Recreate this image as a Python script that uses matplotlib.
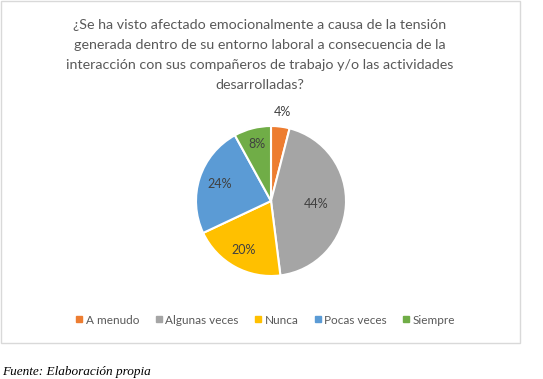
import matplotlib
matplotlib.use("Agg")
import matplotlib.pyplot as plt
import numpy as np

title = ("¿Se ha visto afectado emocionalmente a causa de la tensión\n"
         "generada dentro de su entorno laboral a consecuencia de la\n"
         "interacción con sus compañeros de trabajo y/o las actividades\n"
         "desarrolladas?")
categories = ["A menudo", "Algunas veces", "Nunca", "Pocas veces", "Siempre"]
values = [4, 44, 20, 24, 8]
colors = ["#ED7D31", "#A5A5A5", "#FFC000", "#5B9BD5", "#70AD47"]
label_dist = [1.2, 0.6, 0.75, 0.72, 0.78]
source = "Fuente: Elaboración propia"

W, H = 543, 379
fig = plt.figure(figsize=(W/100, H/100), dpi=100)
fig.patch.set_facecolor("white")

# chart border
border = plt.Rectangle((1/W, 1 - 343/H), 519/W, 342/H, transform=fig.transFigure,
                       fill=False, edgecolor="#D9D9D9", linewidth=1)
fig.add_artist(border)

fig.text(260/W, 1 - 19/H, title, ha="center", va="top", fontsize=10.3,
         color="#595959", family="Lato", linespacing=1.8)

cx, cy, r = 271, 201, 75
ax = fig.add_axes([(cx - r)/W, 1 - (cy + r)/H, 2*r/W, 2*r/H])
wedges, _ = ax.pie(values, colors=colors, startangle=90, counterclock=False,
                   wedgeprops=dict(edgecolor="white", linewidth=1.5))
ax.set_xlim(-1, 1)
ax.set_ylim(-1, 1)
ax.set_aspect("equal")
for w, v, d in zip(wedges, values, label_dist):
    ang = np.deg2rad((w.theta1 + w.theta2) / 2)
    ax.text(d*np.cos(ang), d*np.sin(ang), f"{v}%", ha="center", va="center",
            fontsize=9, color="#404040", family="Lato", clip_on=False)

handles = [plt.Line2D([], [], marker="s", linestyle="", color=c, markersize=4)
           for c in colors]
fig.legend(handles, categories, loc="center", bbox_to_anchor=(264/W, 1 - 320/H),
           ncol=5, frameon=False, handletextpad=0.0, handlelength=1.1,
           columnspacing=1.1, labelcolor="#595959",
           prop={"family": "Lato", "size": 8.5})

fig.text(2/W, 1 - 372/H, source, ha="left", va="center", fontsize=9.5,
         family="Liberation Serif", style="italic", color="#000000")

fig.savefig("out.png", dpi=100)
